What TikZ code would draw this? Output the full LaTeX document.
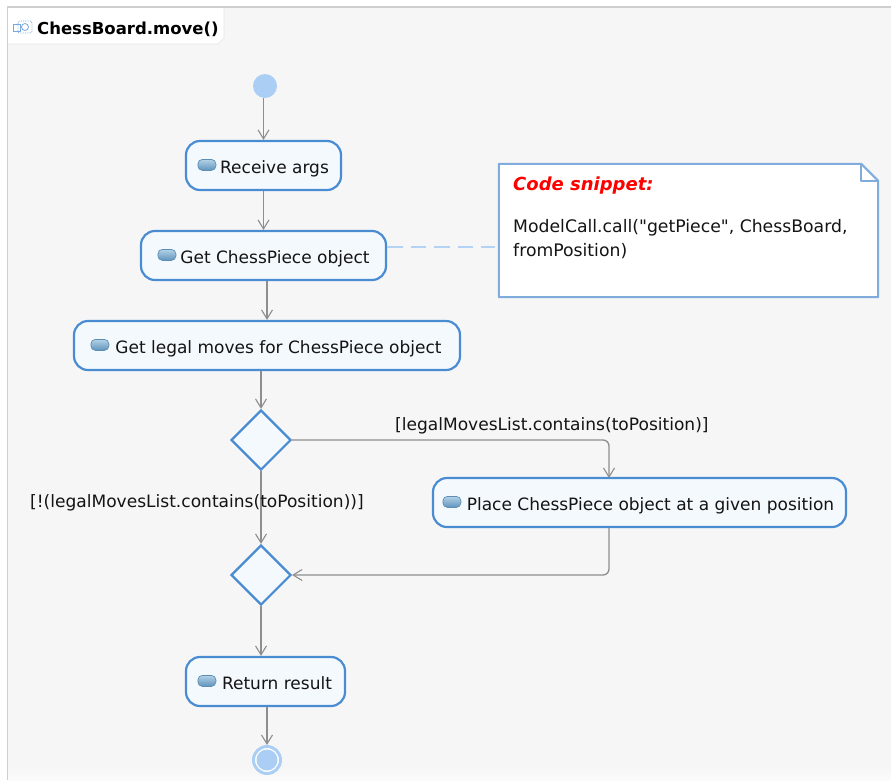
\documentclass[tikz,border=0pt]{standalone}
\usepackage{fontspec}
\setmainfont{DejaVu Sans}
\newfontfamily\codefont{DejaVu Sans}
\usetikzlibrary{arrows.meta,shapes.geometric,calc}
\definecolor{bgc}{HTML}{F6F6F6}
\definecolor{framec}{HTML}{CFCFCF}
\definecolor{blu}{HTML}{4A8CD2}
\definecolor{notec}{HTML}{7FACDC}
\definecolor{fillc}{HTML}{F4F9FE}
\definecolor{lite}{HTML}{ABCFF4}
\definecolor{dashc}{HTML}{B4D3F4}
\definecolor{conn}{HTML}{8E8E8E}
\definecolor{txt}{HTML}{141414}
\definecolor{icontop}{HTML}{B4D2E6}
\definecolor{iconbot}{HTML}{5F93BC}
\definecolor{iconedge}{HTML}{5C8DB4}
\tikzset{
  action/.style={draw=blu,line width=2.2pt,fill=fillc,rounded corners=14pt,minimum height=49pt,inner sep=0pt,text height=17pt,text depth=2pt,font=\fontsize{17}{20}\selectfont,text=txt},
  decision/.style={diamond,draw=blu,line width=2.2pt,fill=fillc,minimum width=60pt,minimum height=60pt,inner sep=0pt,aspect=1},
  flow/.style={draw=conn,line width=1.3pt,-{Straight Barb[length=9pt,width=11pt,line width=1.1pt]}},
  guard/.style={font=\fontsize{17.05}{20}\selectfont,text=txt,inner sep=0pt},
  iconbar/.style={rounded corners=4.5pt,draw=iconedge,line width=0.7pt,top color=icontop,bottom color=iconbot}
}
\newcommand{\acticon}[2]{\path[iconbar] ($(#1.north west)+(#2,19.5)$) rectangle ++(18,11);}
\begin{document}
\begin{tikzpicture}[x=1pt,y=-1pt]
\useasboundingbox (0,0) rectangle (891,780);
\fill[white] (0,0) rectangle (891,780);
\fill[bgc] (8,8) rectangle (891,780);
\shade[top color=bgc,bottom color=white!55!bgc] (8,766) rectangle (891,780);
\draw[framec,line width=1.8pt] (7.5,780) -- (7.5,7) -- (891,7);
% title tab
\fill[white] (8,8) -- (224,8) -- (224,38) -- (218,44) -- (8,44) -- cycle;
\draw[black!10,line width=0.6pt] (224,8) -- (224,38) -- (218,44) -- (8,44);
\draw[blu!75,line width=0.8pt] (13.5,24.5) rectangle (20.5,31);
\draw[blu!75,line width=0.8pt,densely dotted,rounded corners=2pt] (18,21) rectangle (32,33);
\draw[blu!75,line width=0.8pt] (25,27) circle (3.5);
\node[anchor=base west,inner sep=0pt,font=\fontsize{16.5}{20}\selectfont\bfseries,text=black] (title) at (37,34) {ChessBoard.move()};
% nodes
\node[circle,fill=lite,minimum size=24pt,inner sep=0pt] (start) at (265,86) {};
\node[action,minimum width=155pt] (recv) at (263.5,165.5) {\hspace*{22pt}Receive args};
\node[action,minimum width=245pt] (get) at (263.5,255.5) {\hspace*{23pt}Get ChessPiece object};
\node[action,minimum width=386pt] (legal) at (267,345.5) {\hspace*{23pt}Get legal moves for ChessPiece object};
\node[decision] (d1) at (261,440) {};
\node[decision] (d2) at (261,575) {};
\node[action,minimum width=413pt] (place) at (639.5,502.5) {\hspace*{22pt}Place ChessPiece object at a given position};
\node[action,minimum width=159pt] (ret) at (265.5,681.5) {\hspace*{23pt}Return result};
\coordinate (placetop) at (609,478);
\node[circle,draw=lite,line width=3pt,fill=white,minimum size=27pt,inner sep=0pt] (stop) at (267,760) {};
\fill[lite] (stop) circle (10.5);
\acticon{recv}{13}\acticon{get}{18}\acticon{legal}{18}\acticon{place}{11}\acticon{ret}{13}
% note
\node[inner sep=0pt,minimum width=379pt,minimum height=133pt] (note) at (688.5,230.5) {};
\path[draw=notec,line width=2pt,fill=white,line join=round] (note.north west) -- ($(note.north east)+(-17,0)$) -- ($(note.north east)+(0,17)$) -- (note.south east) -- (note.south west) -- cycle;
\draw[notec,line width=2pt,line join=round] ($(note.north east)+(-17,0)$) -- ($(note.north east)+(-17,17)$) -- ($(note.north east)+(0,17)$);
\node[anchor=base west,inner sep=0pt,font=\fontsize{18}{20}\selectfont\bfseries\itshape,text=red] (snip) at (513,190) {Code snippet:};
\node[anchor=north west,inner sep=0pt,align=left,font=\fontsize{17.25}{24}\selectfont\codefont,text=txt] (code) at (513,219) {ModelCall.call("getPiece", ChessBoard,\\fromPosition)};
\coordinate (noteport) at (495,247);
\draw[dashc,line width=2.6pt,dash pattern=on 15.5pt off 8pt] (get.east |- noteport) -- (noteport);
% connectors
\draw[flow] (recv |- start.south) -- (recv.north);
\draw[flow] (recv.south) -- (get.north);
\draw[flow] (legal |- get.south) -- (legal.north);
\draw[flow] (d1 |- legal.south) -- (d1.north);
\draw[flow] (d1.south) -- (d2.north);
\draw[flow,rounded corners=6pt] (d1.east) -- (d1.east -| placetop) -- (placetop);
\draw[flow,rounded corners=6pt] (placetop |- place.south) -- (placetop |- d2.east) -- (d2.east);
\draw[flow] (d2.south) -- (d2 |- ret.north);
\draw[flow] (stop |- ret.south) -- (stop.north);
% guards
\node[guard,anchor=base west] (g1) at (395,430) {[legalMovesList.contains(toPosition)]};
\node[guard,anchor=base west] (g2) at (30,507) {[!(legalMovesList.contains(toPosition))]};
\end{tikzpicture}
\end{document}
